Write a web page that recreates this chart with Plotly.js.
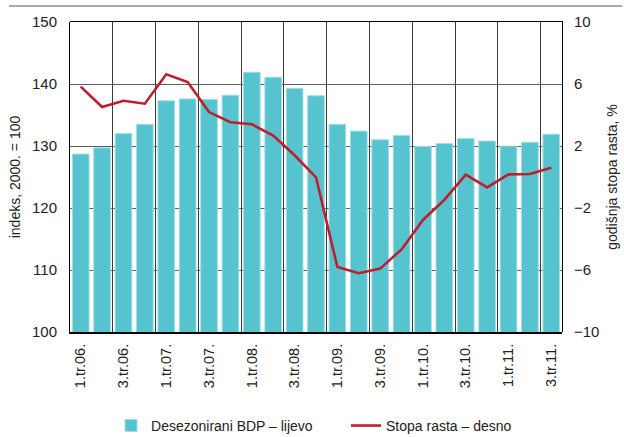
<!DOCTYPE html>
<html>
<head>
<meta charset="utf-8">
<script src="https://cdn.plot.ly/plotly-3.0.1.min.js"></script>
<style>html,body{margin:0;padding:0;background:#fff}#chart{width:624px;height:437px}</style>
</head>
<body>
<div id="chart"></div>
<script>
var quarters = ["1.tr.06.","2.tr.06.","3.tr.06.","4.tr.06.",
                "1.tr.07.","2.tr.07.","3.tr.07.","4.tr.07.",
                "1.tr.08.","2.tr.08.","3.tr.08.","4.tr.08.",
                "1.tr.09.","2.tr.09.","3.tr.09.","4.tr.09.",
                "1.tr.10.","2.tr.10.","3.tr.10.","4.tr.10.",
                "1.tr.11.","2.tr.11.","3.tr.11."];
var gdpIndex = [128.7,129.7,132.0,133.5,137.3,137.6,137.5,138.2,141.9,141.1,139.3,138.1,
                133.5,132.4,131.0,131.7,129.9,130.4,131.2,130.8,130.0,130.6,131.9];
var growthRate = [5.83,4.52,4.92,4.73,6.63,6.13,4.19,3.53,3.40,2.67,1.40,-0.02,
                  -5.81,-6.21,-5.91,-4.67,-2.77,-1.48,0.15,-0.67,0.17,0.19,0.60];
var barName = "Desezonirani BDP – lijevo";
var lineName = "Stopa rasta – desno";
var leftTitle = "indeks, 2000. = 100";
var rightTitle = "godišnja stopa rasta, %";

var idx = quarters.map(function(_, i){ return i; });
var tickVals = idx.filter(function(i){ return i % 2 === 0; });
var tickText = tickVals.map(function(i){ return quarters[i]; });
var boundaries = tickVals.slice(1).map(function(i){ return i - 0.5; });

var FONT = "'Liberation Sans', Arial, sans-serif";
var TXT = "#222";
var xr = [-0.5, quarters.length - 0.5];

var traces = [
  {type:"bar", x: idx, y: gdpIndex, name: barName, xaxis:"x", yaxis:"y", legend:"legend",
   marker:{color:"#55C4CE", line:{color:"#a6dce2", width:1}}, hoverinfo:"skip"},
  {type:"scatter", mode:"lines", x: idx, y: growthRate, name: lineName, xaxis:"x2", yaxis:"y2",
   legend:"legend2", line:{color:"#BE1E2D", width:2.6}, hoverinfo:"skip"}
];

var legendCommon = {orientation:"h", xanchor:"left", y:-0.303, yanchor:"middle",
  font:{family:FONT, size:14, color:TXT}, itemwidth:30, bgcolor:"rgba(0,0,0,0)", borderwidth:0};

var layout = {
  width:624, height:437,
  margin:{l:70, r:62, t:22, b:105, autoexpand:false},
  paper_bgcolor:"#fff", plot_bgcolor:"rgba(0,0,0,0)",
  font:{family:FONT, size:14, color:TXT},
  bargap:0.22,
  showlegend:true,
  legend:Object.assign({}, legendCommon, {x:0.0834}),
  legend2:Object.assign({}, legendCommon, {x:0.561}),
  xaxis:{domain:[0,1], range:xr, tickmode:"array", tickvals:tickVals, ticktext:tickText,
         tickangle:-90, ticks:"", showgrid:false, zeroline:false,
         minor:{tickmode:"linear", tick0:boundaries[0], dtick:2, showgrid:true,
                gridcolor:"#3a3a3a", gridwidth:1, ticks:""},
         showline:true, linecolor:"#000", linewidth:2, anchor:"y",
         tickfont:{family:FONT, size:14.5, color:TXT}, ticklabelstandoff:4},
  yaxis:{domain:[0,1], range:[100,150], tick0:100, dtick:10, ticks:"",
         showgrid:true, gridcolor:"#5e5e5e", gridwidth:1,
         zeroline:false, showline:true, linecolor:"#000", linewidth:1, anchor:"x",
         tickfont:{family:FONT, size:15, color:TXT}, ticklabelstandoff:9,
         title:{text:leftTitle, font:{family:FONT, size:14, color:TXT}, standoff:8}},
  xaxis2:{domain:[0,1], range:xr, anchor:"y2", side:"top",
          showticklabels:false, ticks:"", showgrid:false,
          zeroline:false, showline:true, linecolor:"#000", linewidth:1},
  yaxis2:{domain:[0,1], range:[-10,10], tick0:-10, dtick:4, anchor:"x2", side:"right", ticks:"",
          showgrid:false, zeroline:false,
          showline:true, linecolor:"#000", linewidth:1,
          tickfont:{family:FONT, size:15, color:TXT}, ticklabelstandoff:8,
          title:{text:rightTitle, font:{family:FONT, size:14, color:TXT}, standoff:8}},
  shapes:[{type:"line", xref:"paper", yref:"paper", x0:-0.124, x1:1.1226, y0:1.0516, y1:1.0516,
           line:{color:"#555", width:1}}]
};

Plotly.newPlot("chart", traces, layout, {displayModeBar:false, staticPlot:true});
</script>
</body>
</html>
